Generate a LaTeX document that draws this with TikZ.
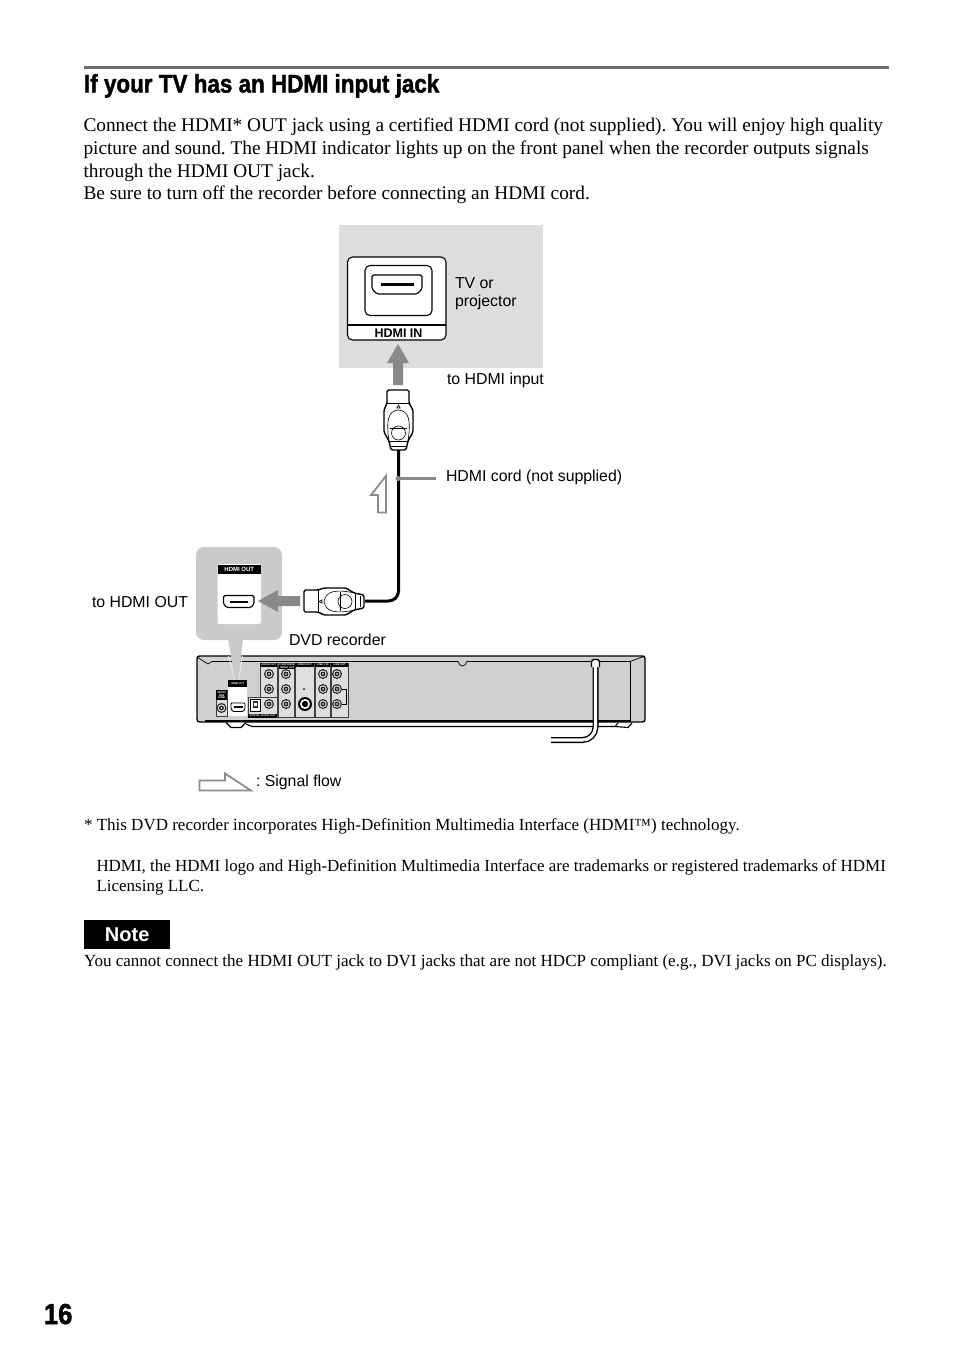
\documentclass[tikz,border=0pt]{standalone}
\usepackage{fontspec}
\setmainfont{Liberation Serif}
\newfontfamily\arialf{Liberation Sans}
\newfontfamily\condf[FakeStretch=0.88,FakeBold=1.6]{Liberation Sans Bold}
\definecolor{panelgrey}{HTML}{DCDDDF}
\definecolor{calloutgrey}{HTML}{C9CACC}
\definecolor{arrowgrey}{HTML}{87898B}
\definecolor{bodygrey}{HTML}{CFD0D2}
\definecolor{rulegrey}{HTML}{6D6E70}
\definecolor{outlinegrey}{HTML}{8A8C8E}
\tikzset{
 x=1pt,y=-1pt,
 txt/.style={anchor=base west,inner sep=0pt,outer sep=0pt,text=black},
 body/.style={txt,font=\fontsize{19.33}{22}\selectfont\frenchspacing},
 small/.style={txt,font=\fontsize{17.0}{20}\selectfont\frenchspacing},
 lab/.style={txt,font=\arialf\fontsize{15.85}{18}\selectfont\frenchspacing},
 bluntarrow/.style={fill=arrowgrey,draw=none},
 plug/.style={draw=black,line width=1.4pt,fill=white,line join=round,rounded corners=1.5pt},
 fineline/.style={draw=black,line width=.6pt},
 cord/.style={draw=black,line width=3pt},
 boxline/.style={draw=black!75,line width=.5pt},
 tag/.style={fill=black,text=white,inner sep=0pt,anchor=north west,align=center,font=\arialf\bfseries\fontsize{2.6}{2.8}\selectfont},
 flowline/.style={draw=outlinegrey,line width=1.8pt,fill=white,line join=miter},
}
% a round socket
\newcommand{\jackmark}[2]{%
 \fill[black!85] (#1,#2) circle (5);
 \fill[bodygrey!60!white] (#1,#2) circle (3.7);
 \fill[black!85] (#1,#2) circle (2.5);
 \fill[white] (#1,#2) circle (.9);
}
\begin{document}
\begin{tikzpicture}
\useasboundingbox (0,0) rectangle (954,1352);
\fill[white] (0,0) rectangle (954,1352);

% title
\fill[rulegrey] (84,65.5) rectangle (889,69);
\node[txt,font=\condf\fontsize{25.5}{30}\selectfont] (title) at (84,92.5) {If your TV has an HDMI input jack};

% body text
\node[body] (p1) at (83.5,131) {Connect the HDMI* OUT jack using a certified HDMI cord (not supplied). You will enjoy high quality};
\node[body] (p2) at (83.5,154) {picture and sound. The HDMI indicator lights up on the front panel when the recorder outputs signals};
\node[body] (p3) at (83.5,177) {through the HDMI OUT jack.};
\node[body] (p4) at (83.5,199) {Be sure to turn off the recorder before connecting an HDMI cord.};

% TV panel
\fill[panelgrey] (339,225) rectangle (543,368);
\draw[fill=white,draw=black,line width=1.1pt,rounded corners=5pt] (347.5,257) rectangle (446,340);
\draw[black,line width=1.1pt] (347.5,325) -- (446,325);
\draw[fill=white,draw=black,line width=1.1pt,rounded corners=5pt] (365,265.5) rectangle (432,315.5);
\draw[fill=white,draw=black,line width=1.1pt,rounded corners=1.5pt] (372,275) -- (422,275) -- (422,289) -- (417,294) -- (377,294) -- (372,289) -- cycle;
\fill[black] (381,282.5) rectangle (414,285.5);
\node[anchor=base,inner sep=0pt,font=\arialf\bfseries\fontsize{12.5}{13}\selectfont] (hdmiin) at (398.5,337) {HDMI IN};
\node[lab] (tv1) at (455,288) {TV or};
\node[lab] (tv2) at (455,306) {projector};
\node[lab] (toin) at (447,384) {to HDMI input};

% arrow into HDMI IN
\fill[bluntarrow] (393,385) -- (393,363) -- (387,363) -- (398,344) -- (409,363) -- (403,363) -- (403,385) -- cycle;

% upper plug
\draw[plug] (387,390) -- (409,390) -- (409,403) -- (413,410) -- (413,432) -- (408,441) -- (406,450) -- (391,450) -- (389,441) -- (384,432) -- (384,410) -- (387,403) -- cycle;
\draw[fineline] (387,403) -- (409,403);
\draw[fineline] (389,441) .. controls (386,420) and (388,411) .. (398.5,410) .. controls (409,411) and (411,420) .. (408,441);
\draw[fineline] (398.5,433) circle (7);
\draw[fineline] (390,428) -- (407,428);
\draw[fineline] (390,441.5) -- (407,441.5);
\draw[fineline] (391,446) -- (406,446);
\draw[fineline] (396.8,408) -- (398.5,405) -- (400.2,408) -- cycle;
\node[coordinate] (plugA) at (398.5,450) {};

% cord
\node[coordinate] (plugB) at (365,601) {};
\draw[cord,rounded corners=10pt] (plugA) -- (398.5,601) -- (plugB);

% leader to the cord
\fill[arrowgrey] (398,478.5) circle (2.6);
\draw[arrowgrey,line width=2.6pt] (398,478.5) -- (436,478.5);
\node[lab] (cordlab) at (446,481) {HDMI cord (not supplied)};

% signal flow arrow on the cord
\draw[flowline] (378,512.5) -- (378,495) -- (371,495) -- (386,476) -- (386,512.5) -- cycle;

% callout
\fill[calloutgrey,rounded corners=8pt] (196,547) rectangle (282,640);
\fill[white,rounded corners=2pt] (217.5,564) rectangle (261,624);
\node[fill=black,text=white,inner sep=0pt,minimum width=43.5pt,minimum height=9pt,font=\arialf\bfseries\fontsize{6}{7}\selectfont] (outtag) at (239.25,569) {HDMI OUT};
\draw[fill=white,draw=black,line width=1.1pt,rounded corners=1.5pt] (223.5,595.5) -- (254,595.5) -- (254,604) -- (251,607.5) -- (226.5,607.5) -- (223.5,604) -- cycle;
\fill[black] (230,600.5) rectangle (247.5,603);

% arrow into HDMI OUT
\fill[bluntarrow] (300,596) -- (278,596) -- (278,590) -- (258,601) -- (278,612) -- (278,606) -- (300,606) -- cycle;

% lower plug
\draw[plug] (304,590) -- (304,612) -- (318,612) -- (324,615) -- (346,615) -- (354,610) -- (364,608) -- (364,595) -- (354,593) -- (346,588) -- (324,588) -- (318,590) -- cycle;
\draw[fineline] (318,590) -- (318,612);
\draw[fineline] (355,593) .. controls (335,589) and (326,591) .. (324,601.5) .. controls (326,612) and (335,614) .. (355,610);
\draw[fineline] (345,601.5) circle (7);
\draw[fineline] (340,592) -- (340,611);
\draw[fineline] (355,593) -- (355,610);
\draw[fineline] (360,596) -- (360,607);
\draw[fineline] (322,599.8) -- (319,601.5) -- (322,603.2) -- cycle;

\node[lab] (toout) at (92,607) {to HDMI OUT};
\node[lab] (dvd) at (289,645) {DVD recorder};

% recorder body
\draw[fill=bodygrey,draw=black,line width=1.4pt,rounded corners=2.5pt] (197,656) -- (645,656) -- (645,722) -- (197,722) -- cycle;
\draw[draw=black,line width=1.1pt,fill=white] (226,722.5) -- (231,727.5) -- (241,727.5) -- (246,722.5);
\draw[black,line width=1.1pt] (246,724) -- (252,726.5) -- (615,726.5) -- (618,723);
\draw[black,line width=1.1pt] (615,726.5) -- (628,727.5) -- (632,723);
\draw[black,line width=.7pt] (197,657) -- (208,664) -- (212,661.5) -- (458,661.5) .. controls (460,667.5) and (465,667.5) .. (467,661.5) -- (630,661.5) -- (645,656);
\draw[black,line width=.7pt] (630,661.5) -- (630,720);
\fill[black] (205,719.8) rectangle (631,721.5);

% back panel: callout wedge first
\fill[calloutgrey] (228,639) -- (243,639) -- (238,684) -- (236,684) -- cycle;
\draw[white!80!calloutgrey,line width=.7pt] (228.5,656) -- (236,684) (242.5,656) -- (238,684);

% setup box
\draw[boxline,fill=bodygrey!70!white] (216,690) rectangle (227,716);
\node[tag,minimum width=11pt,minimum height=10pt] (setuptag) at (216,690) {SETUP\\RGB\\HDMI};
\jackmark{221.5}{708}
% hdmi out
\fill[white] (228,680) rectangle (247,716);
\node[tag,minimum width=19pt,minimum height=6.5pt] (hdmitag) at (228,680) {HDMI OUT};
\draw[fill=white,draw=black,line width=.9pt,rounded corners=1pt] (231,703) -- (245,703) -- (245,709) -- (243,711.5) -- (233,711.5) -- (231,709) -- cycle;
\fill[black] (233.5,706) rectangle (242.5,707.8);
% digital block
\draw[boxline,fill=bodygrey!70!white] (248,697) rectangle (277,717);
\node[tag,minimum width=29pt,minimum height=4pt] (digtag) at (248,713.5) {DIGITAL AUDIO OUT};
\draw[fill=white,draw=black,line width=.7pt] (250.5,699) rectangle (260,711);
\fill[black!80] (252.5,701) rectangle (258,708);
\fill[white] (254,702.5) rectangle (256.5,706);
\jackmark{269}{704}
% audio out block
\draw[boxline,fill=bodygrey!70!white] (260,663) rectangle (277,697);
\node[tag,minimum width=17pt,minimum height=4.5pt] (audiotag) at (260,662.5) {AUDIO OUT};
\jackmark{269}{674}
\jackmark{269}{689}
% component
\draw[boxline,fill=bodygrey!70!white] (278.5,663) rectangle (294,717);
\node[tag,minimum width=15.5pt,minimum height=6pt] (comptag) at (278.5,662.5) {COMPONENT\\VIDEO OUT};
\jackmark{286}{674}
\jackmark{286}{689}
\jackmark{286}{704}
% video out
\draw[boxline,fill=bodygrey!70!white] (295,663) rectangle (314,717);
\node[tag,minimum width=19pt,minimum height=4.5pt] (videotag) at (295,662.5) {VIDEO OUT};
\fill[black] (304,689) circle (1);
\fill[black] (305,704) circle (7);
\fill[white] (305,704) circle (5);
\fill[black] (305,704) circle (3.2);
% line 1 in
\draw[boxline,fill=bodygrey!70!white] (315,663) rectangle (330,717);
\node[tag,minimum width=15pt,minimum height=4.5pt] (linetag) at (315,662.5) {LINE 1 IN};
\jackmark{323}{674}
\jackmark{323}{689}
\jackmark{323}{704}
% line out
\draw[boxline,fill=bodygrey!70!white] (331,663) rectangle (348,717);
\node[tag,minimum width=17pt,minimum height=4.5pt] (lineouttag) at (331,662.5) {LINE OUT};
\jackmark{337}{674}
\jackmark{337}{689}
\jackmark{337}{704}
\draw[black,line width=.9pt] (342,689) -- (346,689) -- (346,704) -- (342,704);

% mains cord on the recorder
\node[coordinate] (mainsA) at (595.5,667) {};
\node[coordinate] (mainsB) at (551,740) {};
\draw[black,line width=6pt,rounded corners=13pt] (mainsA) -- (595.5,740) -- (mainsB);
\draw[black,line width=1.4pt,fill=white,rounded corners=2.5pt] (591.5,667) -- (591.5,659.5) -- (599.5,659.5) -- (599.5,667);
\draw[white,line width=3.2pt,rounded corners=13pt] (595.5,664) -- (595.5,740) -- (550,740);

% legend
\draw[flowline] (199.5,790.5) -- (199.5,780.5) -- (225,780.5) -- (225,773.5) -- (251,790.5) -- cycle;
\node[lab] (legend) at (256,786) {: Signal flow};

% footnotes
\node[small] (f1) at (84,830) {* This DVD recorder incorporates High-Definition Multimedia Interface (HDMI™) technology.};
\node[small,font=\fontsize{16.95}{20}\selectfont\frenchspacing] (f2) at (96.5,871) {HDMI, the HDMI logo and High-Definition Multimedia Interface are trademarks or registered trademarks of HDMI};
\node[small] (f3) at (96.5,891) {Licensing LLC.};

% note
\node[fill=black,text=white,inner sep=0pt,minimum width=86pt,minimum height=29pt,font=\arialf\bfseries\fontsize{20}{22}\selectfont,anchor=north west] (note) at (84,920) {Note};
\node[small] (f4) at (84,966) {You cannot connect the HDMI OUT jack to DVI jacks that are not HDCP compliant (e.g., DVI jacks on PC displays).};

% page number
\node[txt,font=\condf\fontsize{29}{30}\selectfont] (page) at (44,1324) {16};
\end{tikzpicture}
\end{document}
